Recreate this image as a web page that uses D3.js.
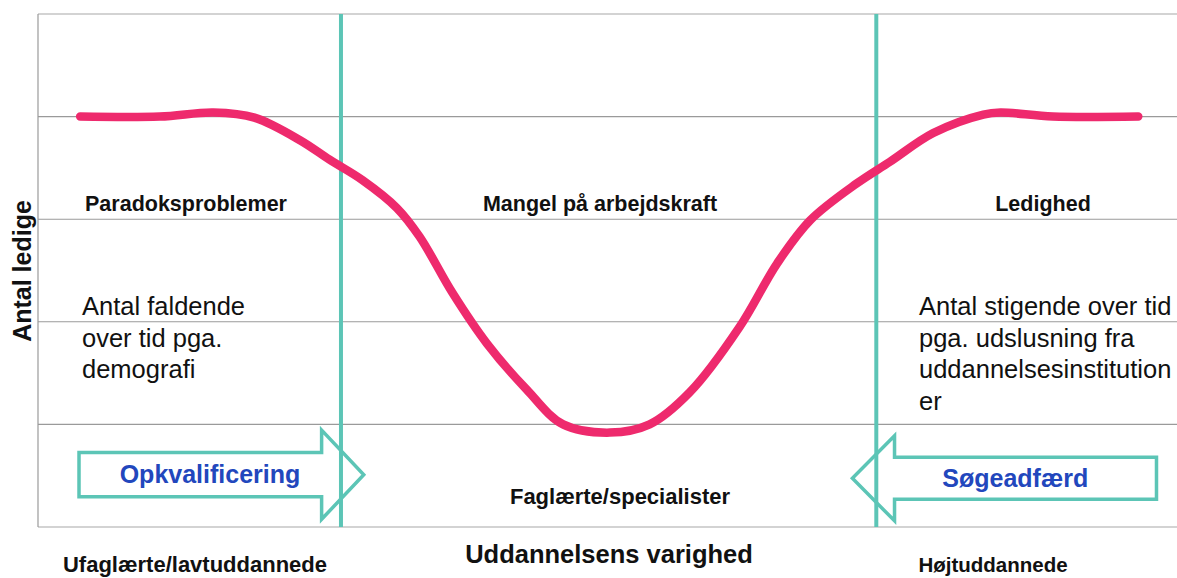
<!DOCTYPE html>
<html>
<head>
<meta charset="utf-8">
<script src="https://cdn.jsdelivr.net/npm/d3@7"></script>
<style>
  html, body { margin: 0; padding: 0; background: #fff; }
  svg { display: block; font-family: "Liberation Sans", Arial, sans-serif; }
</style>
</head>
<body>
<div id="chart"></div>
<script>
'use strict';

// grid levels on the "Antal ledige" axis
var yTicks = [0, 1, 2, 3, 4, 5];

// education duration (0-100 index) vs. number unemployed
var eduX   = [3.7, 10.7, 15.4, 19.0, 23.0, 25.6, 28.5, 31.5, 33.5, 36.4, 39.4, 42.9, 46.1,
              50.2, 53.7, 57.2, 61.6, 64.9, 67.8, 71.9, 74.8, 78.6, 83.0, 84.5, 89.1, 96.6];
var ledige = [4.0, 4.0, 4.04, 3.99, 3.77, 3.58, 3.38, 3.11, 2.83, 2.28, 1.79, 1.34, 1.0,
              0.92, 1.0, 1.31, 1.95, 2.57, 2.99, 3.35, 3.56, 3.84, 4.02, 4.04, 4.0, 4.0];

// group borders
var dividers = [26.6, 73.6];

var zoneTitles = ['Paradoksproblemer', 'Mangel på arbejdskraft', 'Ledighed'];
var groupNames = ['Ufaglærte/lavtuddannede', 'Faglærte/specialister', 'Højtuddannede'];
var leftNote  = ['Antal faldende', 'over tid pga.', 'demografi'];
var rightNote = ['Antal stigende over tid', 'pga. udslusning fra', 'uddannelsesinstitution', 'er'];
var arrowLabels = ['Opkvalificering', 'Søgeadfærd'];

var W = 1177, H = 578;
var margin = { top: 14, right: 0, bottom: 51, left: 38 };

var pink = '#ee2a6d', teal = '#5cc5b6', blue = '#2247bd';

var svg = d3.select('#chart').append('svg')
  .attr('width', W).attr('height', H)
  .attr('viewBox', [0, 0, W, H]);

var x = d3.scaleLinear().domain([0, 100]).range([margin.left, W - margin.right]);
var y = d3.scaleLinear().domain([0, 5]).range([H - margin.bottom, margin.top]);

// gridlines
svg.append('g')
  .selectAll('line')
  .data(yTicks)
  .join('line')
  .attr('x1', x(0)).attr('x2', x(100))
  .attr('y1', function (d) { return y(d); })
  .attr('y2', function (d) { return y(d); })
  .attr('stroke', function (d) { return (d === 0 || d === 5) ? '#c4c4c4' : '#9a9a9a'; })
  .attr('stroke-width', function (d) { return (d === 0 || d === 5) ? 1.6 : 1.1; });

// left axis line
svg.append('line')
  .attr('x1', x(0)).attr('x2', x(0))
  .attr('y1', y(0)).attr('y2', y(5))
  .attr('stroke', '#9a9a9a').attr('stroke-width', 1.2);

// arrows (in data units: tail, head base, tip, centre, body half-height, head half-height)
function arrowPath(tail, base, tip, cy, bodyH, headH) {
  return [
    [x(tail), y(cy + bodyH)], [x(base), y(cy + bodyH)], [x(base), y(cy + headH)],
    [x(tip), y(cy)],
    [x(base), y(cy - headH)], [x(base), y(cy - bodyH)], [x(tail), y(cy - bodyH)]
  ];
}
var arrows = [
  { pts: arrowPath(3.6, 24.9, 28.6, 0.51, 0.215, 0.435), label: arrowLabels[0], lx: 15.1, ly: 0.51 },
  { pts: arrowPath(98.2, 75.2, 71.5, 0.475, 0.205, 0.415), label: arrowLabels[1], lx: 85.8, ly: 0.475 }
];

var arrowG = svg.append('g');
arrowG.selectAll('path')
  .data(arrows)
  .join('path')
  .attr('d', function (d) { return d3.line()(d.pts) + 'Z'; })
  .attr('fill', '#fff')
  .attr('stroke', teal)
  .attr('stroke-width', 3.5)
  .attr('stroke-linejoin', 'miter');

// divider lines
svg.append('g')
  .selectAll('line')
  .data(dividers)
  .join('line')
  .attr('x1', function (d) { return x(d); })
  .attr('x2', function (d) { return x(d); })
  .attr('y1', y(5)).attr('y2', y(0))
  .attr('stroke', teal).attr('stroke-width', 4);

arrowG.selectAll('text')
  .data(arrows)
  .join('text')
  .attr('x', function (d) { return x(d.lx); })
  .attr('y', function (d) { return y(d.ly); })
  .attr('dy', '0.35em')
  .attr('text-anchor', 'middle')
  .attr('font-size', 25)
  .attr('font-weight', 'bold')
  .attr('fill', blue)
  .text(function (d) { return d.label; });

// the curve
var line = d3.line()
  .x(function (d, i) { return x(eduX[i]); })
  .y(function (d) { return y(d); })
  .curve(d3.curveCatmullRom.alpha(0.5));

svg.append('path')
  .datum(ledige)
  .attr('d', line)
  .attr('fill', 'none')
  .attr('stroke', pink)
  .attr('stroke-width', 8.5)
  .attr('stroke-linecap', 'round');

// zone titles
var titleX = [186, 600, 1043];
svg.append('g')
  .selectAll('text')
  .data(zoneTitles)
  .join('text')
  .attr('x', function (d, i) { return titleX[i]; })
  .attr('y', 211)
  .attr('text-anchor', 'middle')
  .attr('font-size', 21.5)
  .attr('font-weight', 'bold')
  .attr('fill', '#111')
  .text(function (d) { return d; });

// notes
function note(lines, left) {
  svg.append('g')
    .selectAll('text')
    .data(lines)
    .join('text')
    .attr('x', left)
    .attr('y', function (d, i) { return 315 + i * 31.5; })
    .attr('font-size', 25.5)
    .attr('fill', '#111')
    .text(function (d) { return d; });
}
note(leftNote, 82);
note(rightNote, 919);

// group names
var groupX = [195, 620, 993];
var groupY = [572, 504, 572];
var groupSize = [22, 22, 20.5];
svg.append('g')
  .selectAll('text')
  .data(groupNames)
  .join('text')
  .attr('x', function (d, i) { return groupX[i]; })
  .attr('y', function (d, i) { return groupY[i]; })
  .attr('text-anchor', 'middle')
  .attr('font-size', function (d, i) { return groupSize[i]; })
  .attr('font-weight', 'bold')
  .attr('fill', '#111')
  .text(function (d) { return d; });

// axis titles
svg.append('text')
  .attr('x', 609).attr('y', 563)
  .attr('text-anchor', 'middle')
  .attr('font-size', 25.5).attr('font-weight', 'bold')
  .attr('fill', '#111')
  .text('Uddannelsens varighed');

svg.append('text')
  .attr('transform', 'translate(31,271) rotate(-90)')
  .attr('text-anchor', 'middle')
  .attr('font-size', 25).attr('font-weight', 'bold')
  .attr('fill', '#111')
  .text('Antal ledige');
</script>
</body>
</html>
